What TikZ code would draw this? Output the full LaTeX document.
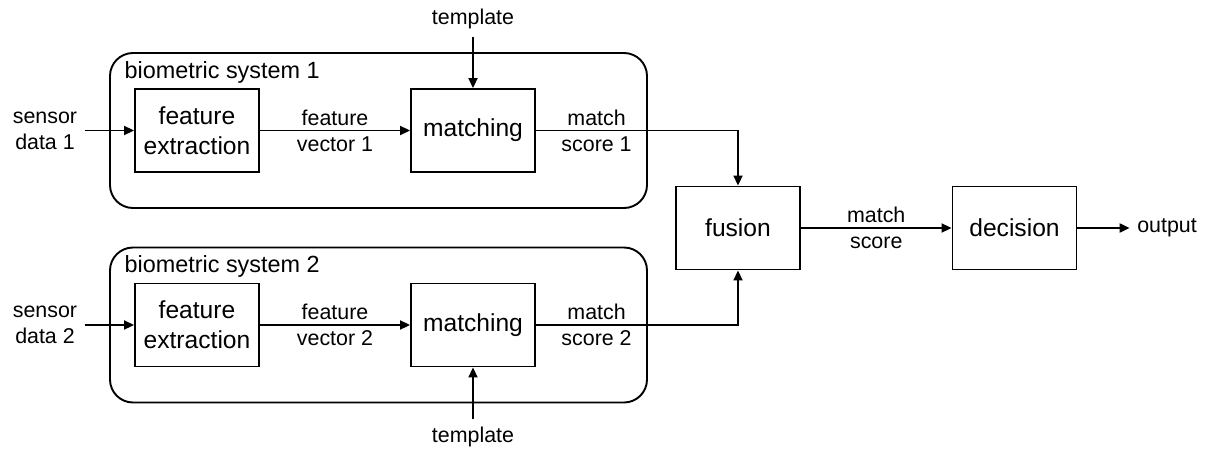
\documentclass[tikz,border=0pt]{standalone}
\usepackage{fontspec}
\setmainfont{Liberation Sans}
\usetikzlibrary{arrows.meta}
\begin{document}
\begin{tikzpicture}[x=0.5pt,y=-0.5pt,line width=0.95pt,
    blk/.style={draw,minimum width=62pt,minimum height=41.5pt,align=center,font=\fontsize{12.3}{15}\selectfont},
    sysbox/.style={draw,rounded corners=11.5pt,minimum width=268.5pt,minimum height=77.5pt},
    lbl/.style={align=center,font=\fontsize{10.7}{13}\selectfont},
    arr/.style={-{Triangle[length=5pt,width=4.5pt]}}]
    \useasboundingbox (0,0) rectangle (1206,450);

    \node[sysbox] (sys1) at (378.5,130.5) {};
    \node[anchor=west,font=\fontsize{11.7}{14}\selectfont] (sysl1) at (117,72) {biometric system 1};
    \node[lbl] (sd1) at (45,130.5) {sensor\\data 1};
    \node[blk] (fe1) at (197,130.5) {feature\\extraction};
    \node[blk] (mt1) at (473,130.5) {matching};
    \node[lbl] (tpl1) at (473,19) {template};

    \node[sysbox] (sys2) at (378.5,325) {};
    \node[anchor=west,font=\fontsize{11.7}{14}\selectfont] (sysl2) at (117,266) {biometric system 2};
    \node[lbl] (sd2) at (45,325) {sensor\\data 2};
    \node[blk] (fe2) at (197,325) {feature\\extraction};
    \node[blk] (mt2) at (473,325) {matching};
    \node[lbl] (tpl2) at (473,437) {template};

    \node[blk] (fus) at (738,228) {fusion};
    \node[blk] (dec) at (1014.5,228) {decision};
    \node[lbl] (out) at (1167,228) {output};

    \draw[arr] (sd1) -- (fe1);
    \draw[arr] (fe1) -- node[lbl]{feature\\vector 1} (mt1);
    \draw[arr] (tpl1) -- (mt1);
    \draw[arr] (mt1) -| node[lbl,pos=0.15]{match\\score 1} (fus);

    \draw[arr] (sd2) -- (fe2);
    \draw[arr] (fe2) -- node[lbl]{feature\\vector 2} (mt2);
    \draw[arr] (tpl2) -- (mt2);
    \draw[arr] (mt2) -| node[lbl,pos=0.15]{match\\score 2} (fus);

    \draw[arr] (fus) -- node[lbl]{match\\score} (dec);
    \draw[arr] (dec) -- (out);
\end{tikzpicture}
\end{document}
